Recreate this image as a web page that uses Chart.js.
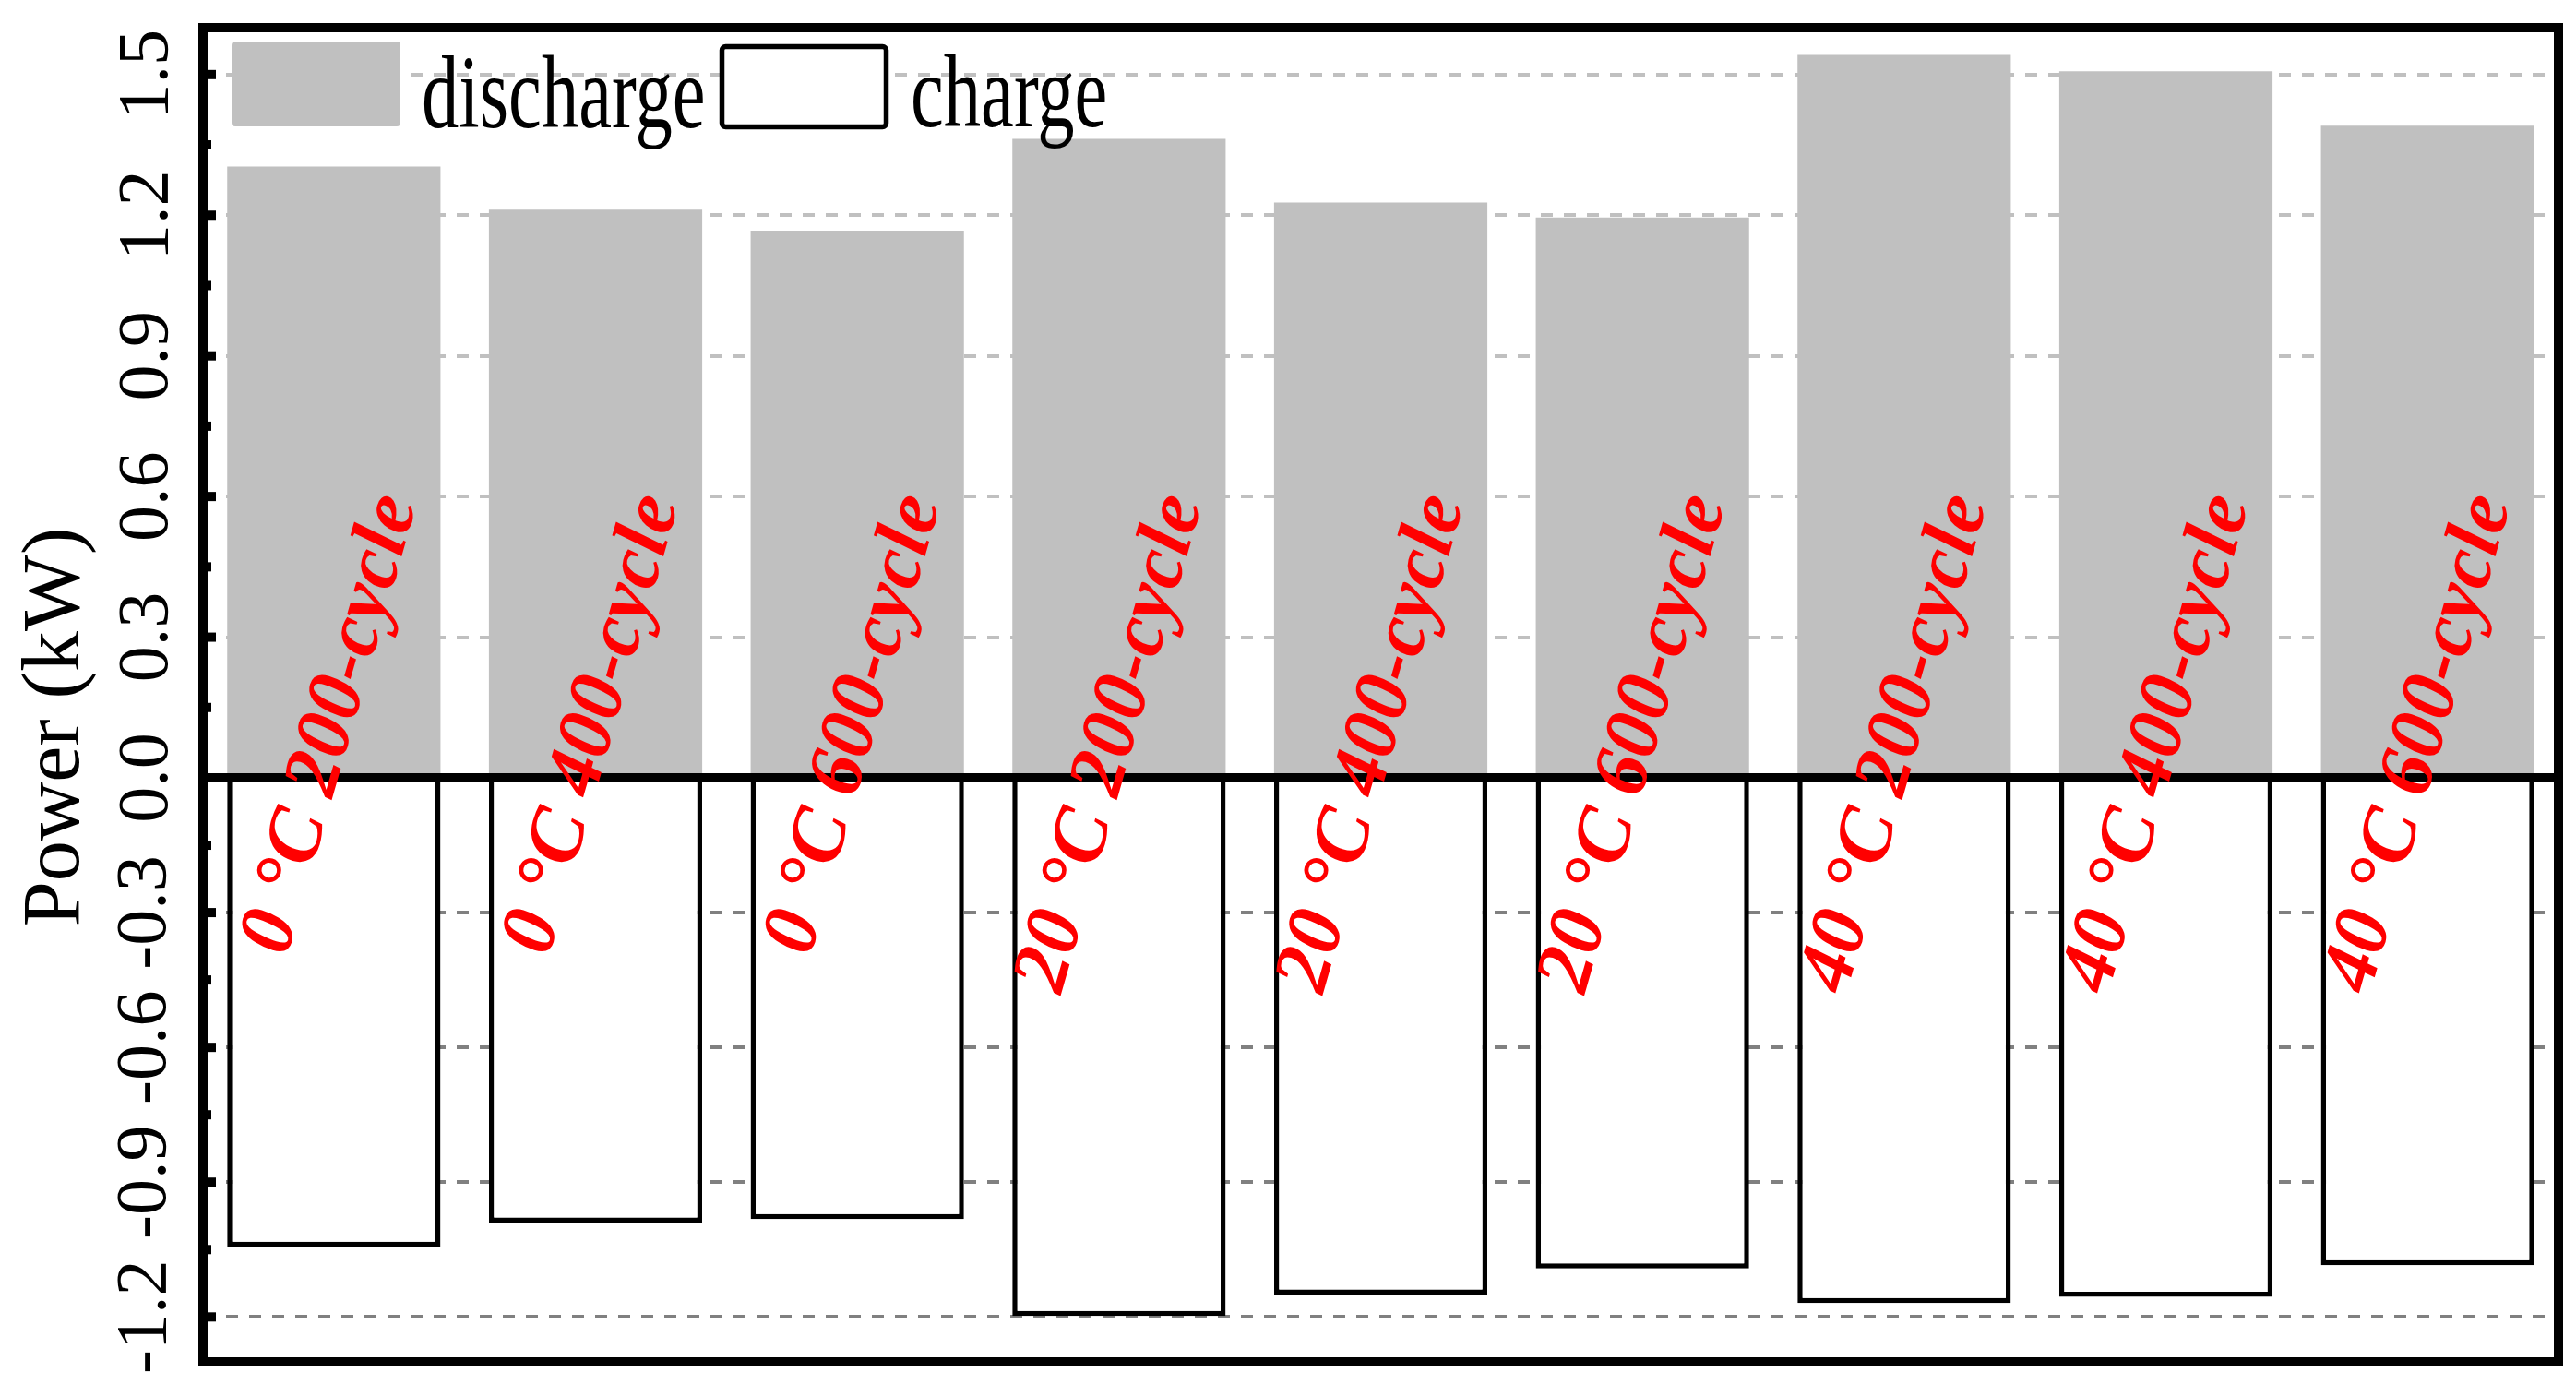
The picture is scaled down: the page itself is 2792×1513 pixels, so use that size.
<!DOCTYPE html>
<html>
<head>
<meta charset="utf-8">
<script src="https://cdn.jsdelivr.net/npm/chart.js@4.4.1/dist/chart.umd.min.js"></script>
<style>
html,body{margin:0;padding:0;background:#ffffff;}
#wrap{width:2792px;height:1513px;}
</style>
</head>
<body>
<div id="wrap"><canvas id="c" width="2792" height="1513"></canvas></div>
<script>
// ---------- data ----------
const categories = [
  '0 °C 200-cycle', '0 °C 400-cycle', '0 °C 600-cycle',
  '20 °C 200-cycle', '20 °C 400-cycle', '20 °C 600-cycle',
  '40 °C 200-cycle', '40 °C 400-cycle', '40 °C 600-cycle'
];
const dischargeKW = [1.304, 1.212, 1.167, 1.363, 1.227, 1.195, 1.542, 1.507, 1.391];
const chargeKW = [-1.044, -0.990, -0.982, -1.198, -1.150, -1.092, -1.169, -1.155, -1.085];
const posTickValues = [0, 0.3, 0.6, 0.9, 1.2, 1.5];
const negTickValues = [-1.2, -0.9, -0.6, -0.3, 0];
const seriesNames = ['discharge', 'charge'];
const yTitle = 'Power (kW)';

const SERIF = '"Liberation Serif", "Times New Roman", Times, serif';
Chart.defaults.font.family = SERIF;
Chart.defaults.color = '#000000';

const fmt = v => (Math.abs(v) < 1e-9 ? 0 : v).toFixed(1);

// frame, zero line and inward tick marks
const framePlugin = {
  id: 'frame',
  afterDatasetsDraw(chart) {
    const {ctx, chartArea: ca} = chart;
    const yPos = chart.scales.yPos, yNeg = chart.scales.yNeg;
    ctx.save();
    ctx.strokeStyle = '#000000';
    ctx.lineWidth = 10;
    ctx.lineCap = 'butt';
    const y0 = yNeg.getPixelForValue(0);
    ctx.beginPath(); ctx.moveTo(ca.left, y0); ctx.lineTo(ca.right, y0); ctx.stroke();
    const drawTicks = (scale, vals) => {
      vals.forEach(v => {
        const y = scale.getPixelForValue(v);
        ctx.beginPath(); ctx.moveTo(ca.left, y); ctx.lineTo(ca.left + 14, y); ctx.stroke();
      });
      for (let i = 0; i < vals.length - 1; i++) {
        const y = scale.getPixelForValue((vals[i] + vals[i + 1]) / 2);
        ctx.beginPath(); ctx.moveTo(ca.left, y); ctx.lineTo(ca.left + 9, y); ctx.stroke();
      }
    };
    drawTicks(yPos, posTickValues);
    drawTicks(yNeg, negTickValues);
    ctx.strokeRect(ca.left, ca.top, ca.right - ca.left, ca.bottom - ca.top);
    ctx.restore();
  }
};

// rotated red bar labels
const barLabelPlugin = {
  id: 'barLabels',
  afterDatasetsDraw(chart) {
    const {ctx} = chart;
    const xs = chart.scales.x;
    const y0 = chart.scales.yNeg.getPixelForValue(0);
    ctx.save();
    ctx.fillStyle = '#FF0000';
    ctx.font = 'italic bold 86px ' + SERIF;
    ctx.textAlign = 'right';
    ctx.textBaseline = 'alphabetic';
    categories.forEach((c, i) => {
      const x = xs.getPixelForValue(i);
      ctx.save();
      ctx.translate(x + 90, y0 - 298);
      ctx.rotate(-74 * Math.PI / 180);
      ctx.fillText(c, 0, 0);
      ctx.restore();
    });
    ctx.restore();
  }
};

// legend inside the frame and y title
const legendTitlePlugin = {
  id: 'legendTitle',
  afterDraw(chart) {
    const {ctx, chartArea: ca} = chart;
    const ds = chart.data.datasets;
    ctx.save();
    ctx.fillStyle = ds[0].backgroundColor;
    ctx.beginPath(); ctx.roundRect(ca.left + 31, ca.top + 15, 183, 92, 4); ctx.fill();
    ctx.fillStyle = ds[1].backgroundColor;
    ctx.strokeStyle = ds[1].borderColor;
    ctx.lineWidth = 5.5;
    ctx.beginPath(); ctx.roundRect(ca.left + 562.5, ca.top + 20.5, 178, 87, 4); ctx.fill(); ctx.stroke();
    ctx.fillStyle = '#000000';
    ctx.font = '112px ' + SERIF;
    ctx.textAlign = 'left';
    ctx.textBaseline = 'alphabetic';
    ctx.save(); ctx.translate(ca.left + 237, ca.top + 108); ctx.scale(0.72, 1); ctx.fillText(ds[0].label, 0, 0); ctx.restore();
    ctx.save(); ctx.translate(ca.left + 767, ca.top + 107); ctx.scale(0.72, 1); ctx.fillText(ds[1].label, 0, 0); ctx.restore();
    ctx.save();
    ctx.translate(ca.left - 158, ca.top + 758);
    ctx.rotate(-Math.PI / 2);
    ctx.font = '88px ' + SERIF;
    ctx.textAlign = 'center';
    ctx.textBaseline = 'middle';
    ctx.fillText(yTitle, 0, 0);
    ctx.restore();
    ctx.restore();
  }
};

const yCommon = {
  type: 'linear',
  position: 'left',
  stack: 'power',
  border: {display: false, dash: [13, 12]},
  ticks: {
    autoSkip: false,
    minRotation: 90,
    maxRotation: 90,
    crossAlign: 'center',
    font: {size: 78, family: SERIF},
    color: '#000000'
  },
  afterFit(s) { s.width = 100; s.paddingTop = 0; s.paddingBottom = 0; }
};

// left-positioned stacked axes are laid out in reverse definition order,
// so the negative (bottom) axis is defined first.
const scales = {
  x: {type: 'category', display: false, offset: true, grid: {display: false}},
  yNeg: Object.assign({}, yCommon, {
    min: -1.3, max: 0,
    stackWeight: 633,
    afterBuildTicks(s) { s.ticks = negTickValues.map(v => ({value: v})); },
    grid: {drawTicks: false, lineWidth: 4, color: c => (c.tick && c.tick.value === 0 ? 'rgba(0,0,0,0)' : '#808080')},
    ticks: Object.assign({}, yCommon.ticks, {padding: 0, callback: v => (Math.abs(v) < 1e-9 ? '' : fmt(v))})
  }),
  yPos: Object.assign({}, yCommon, {
    min: 0, max: 1.6,
    stackWeight: 813,
    afterBuildTicks(s) { s.ticks = posTickValues.map(v => ({value: v})); },
    grid: {drawTicks: false, lineWidth: 4, color: c => (c.tick && c.tick.value === 0 ? 'rgba(0,0,0,0)' : '#C0C0C0')},
    ticks: Object.assign({}, yCommon.ticks, {padding: 11, callback: v => fmt(v)})
  })
};

new Chart(document.getElementById('c'), {
  type: 'bar',
  data: {
    labels: categories,
    datasets: [
      {
        label: seriesNames[0],
        data: dischargeKW,
        yAxisID: 'yPos',
        backgroundColor: '#C0C0C0',
        borderWidth: 0,
        grouped: false,
        barPercentage: 0.815,
        categoryPercentage: 1
      },
      {
        label: seriesNames[1],
        data: chargeKW,
        yAxisID: 'yNeg',
        backgroundColor: '#FFFFFF',
        borderColor: '#000000',
        borderWidth: 5.5,
        grouped: false,
        barPercentage: 0.815,
        categoryPercentage: 1
      }
    ]
  },
  options: {
    responsive: false,
    animation: false,
    devicePixelRatio: 1,
    layout: {padding: {left: 120, top: 30, right: 19, bottom: 37}},
    plugins: {legend: {display: false}, tooltip: {enabled: false}},
    scales: scales
  },
  plugins: [framePlugin, barLabelPlugin, legendTitlePlugin]
});
</script>
</body>
</html>
